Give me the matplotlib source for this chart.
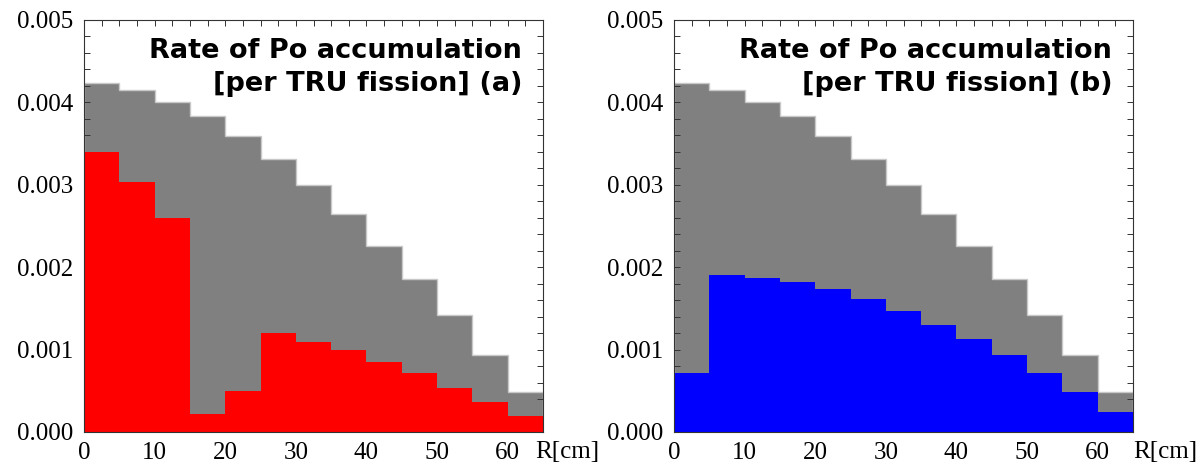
import matplotlib
matplotlib.use("Agg")
import matplotlib.pyplot as plt
import numpy as np
from matplotlib.ticker import MultipleLocator, FormatStrFormatter

# bin edges in R [cm]
edges = np.arange(0, 70, 5)

# total rate (grey), same in both panels
total = [0.00424, 0.00415, 0.00401, 0.00383, 0.00359, 0.00331, 0.00300,
         0.00265, 0.00226, 0.00186, 0.00142, 0.00093, 0.00048]

# panel (a) - red
rate_a = [0.00340, 0.00303, 0.00260, 0.00022, 0.00050, 0.00120, 0.00109,
          0.00099, 0.00085, 0.00071, 0.00054, 0.00037, 0.00019]

# panel (b) - blue
rate_b = [0.00072, 0.00190, 0.00187, 0.00182, 0.00173, 0.00162, 0.00147,
          0.00130, 0.00113, 0.00093, 0.00072, 0.00048, 0.00024]

yticks = [0.000, 0.001, 0.002, 0.003, 0.004, 0.005]
xticks = [0, 10, 20, 30, 40, 50, 60]

serif = ["Liberation Serif", "DejaVu Serif"]


def draw_panel(ax, part, color, tag, xlabel_x):
    ax.stairs(total, edges, fill=True, color="#808080", zorder=1)
    ax.stairs(total, edges, fill=False, color="#c8c8c8", linewidth=1, zorder=1.5)
    ax.stairs(part, edges, fill=True, color=color, zorder=2)

    ax.set_xlim(0, 65)
    ax.set_ylim(0, 0.005)
    ax.set_xticks(xticks)
    ax.set_yticks(yticks)
    ax.xaxis.set_minor_locator(MultipleLocator(2.5))
    ax.yaxis.set_minor_locator(MultipleLocator(0.0002))
    ax.yaxis.set_major_formatter(FormatStrFormatter("%.3f"))
    ax.tick_params(which="both", direction="in", top=True, right=True,
                   length=4, width=0.7, color="#333333",
                   labelsize=18, labelfontfamily="Liberation Serif")
    ax.tick_params(axis="y", pad=8)
    ax.tick_params(axis="x", pad=7)
    for sp in ax.spines.values():
        sp.set_linewidth(0.8)
        sp.set_color("#333333")

    ax.text(0.955, 0.957, "Rate of Po accumulation\n[per TRU fission] " + tag,
            transform=ax.transAxes, ha="right", va="top", ma="right",
            family="DejaVu Sans", fontweight="bold", fontsize=19.5,
            linespacing=1.35, zorder=5)

    ax.annotate("R[cm]", xy=(xlabel_x, 0), xytext=(0, -6.5),
                textcoords="offset points", ha="left", va="top",
                family=serif, fontsize=18, annotation_clip=False)


fig = plt.figure(figsize=(12.04, 4.70), dpi=100)
ax1 = fig.add_axes([84 / 1204, 1 - 432 / 470, 459 / 1204, 412 / 470])
ax2 = fig.add_axes([674 / 1204, 1 - 432 / 470, 459 / 1204, 412 / 470])

draw_panel(ax1, rate_a, "#ff0000", "(a)", 63.9)
draw_panel(ax2, rate_b, "#0000ff", "(b)", 65.0)

fig.savefig("out.png", dpi=100)
